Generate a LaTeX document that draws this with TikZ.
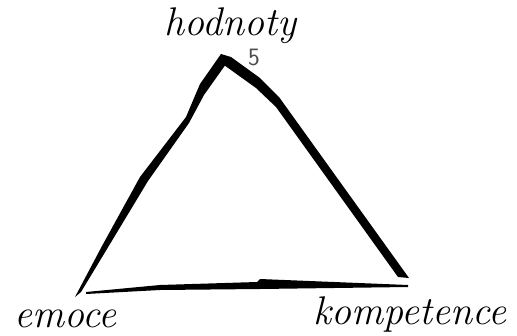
\documentclass[tikz,border=0pt]{standalone}
\begin{document}
\begin{tikzpicture}[x=1pt,y=-1pt,
  lbl/.style={font=\fontsize{40}{40}\selectfont\itshape, inner sep=0pt, anchor=base},
  num/.style={font=\fontsize{25}{25}\selectfont\sffamily, text=black!70, inner sep=0pt, anchor=base},
  stroke/.style={fill=black, draw=none}]
\useasboundingbox (0,0) rectangle (517,335);
% left side
\path[stroke] (75,297) -- (102,246) -- (140,177) -- (186,117) -- (197,91) -- (200,84) -- (221,54)
  -- (226,64) -- (204,95) -- (189,123) -- (148,181) -- (110,244) -- (81,292) -- cycle;
% right side
\path[stroke] (221,54) -- (231,57) -- (260,78) -- (279,97) -- (409,278)
  -- (398,277) -- (276,107) -- (256,88) -- (224,65) -- cycle;
% bottom
\path[stroke] (86,292) -- (160,285) -- (257,282) -- (260,279) -- (408,285)
  -- (408,287) -- (260,289) -- (160,290) -- (86,294) -- cycle;
\node[lbl] (hodnoty) at (230,35) {hodnoty};
\node[lbl] (emoce) at (65,327) {emoce};
\node[lbl] (kompetence) at (410,324) {kompetence};
\node[num] (five) at (254,65) {5};
\end{tikzpicture}
\end{document}
